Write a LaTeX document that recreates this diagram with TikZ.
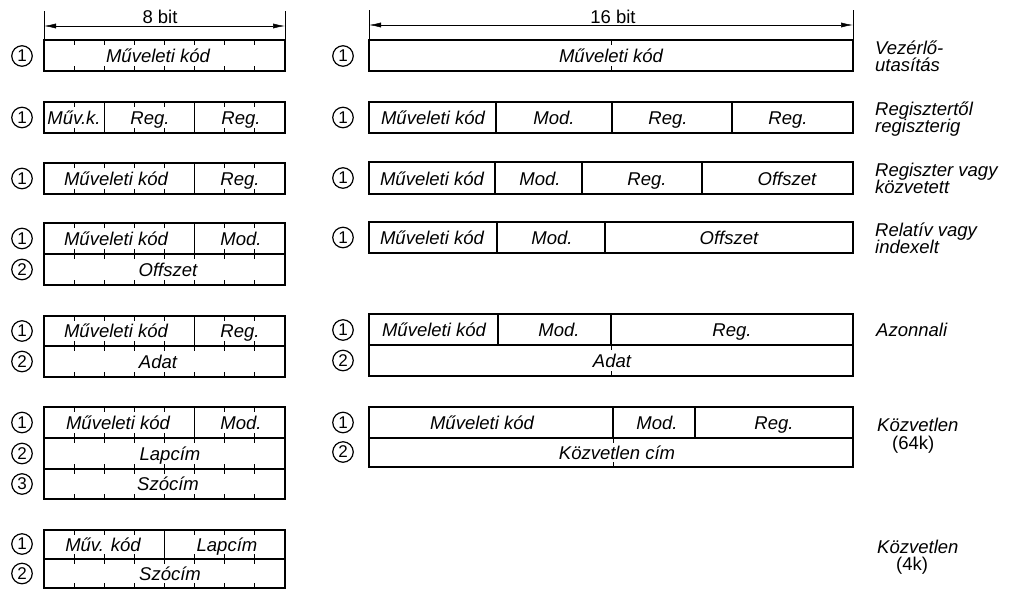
\documentclass[tikz,border=0pt]{standalone}
\usepackage{fontspec}
\setmainfont{Liberation Sans}
\usetikzlibrary{arrows.meta}
\newcommand\bxtop[1]{\foreach \k in {1,...,7}{\draw[tk] ({44+\k*30.125},#1) -- ++(0,5);}}
\newcommand\bxbot[1]{\foreach \k in {1,...,7}{\draw[tk] ({44+\k*30.125},#1) -- ++(0,-5);}}
\newcommand\bxmid[1]{\foreach \k in {1,...,7}{\draw[tk] ({44+\k*30.125},{#1-5}) -- ++(0,10);}}
\begin{document}
\begin{tikzpicture}[x=1pt,y=-1pt,
  bx/.style={line width=1.7pt, line join=miter},
  dv/.style={line width=1.3pt},
  tk/.style={line width=1pt},
  ext/.style={line width=0.6pt},
  dim/.style={line width=0.5pt, {Latex[length=12pt,width=5pt]}-{Latex[length=12pt,width=5pt]}},
  lbl/.style={font=\itshape\fontsize{18.5}{18.5}\selectfont, anchor=base, inner sep=0pt},
  side/.style={font=\itshape\fontsize{18.5}{18.5}\selectfont, anchor=base west, inner sep=0pt},
  up/.style={font=\fontsize{18.5}{18.5}\selectfont, anchor=base, inner sep=0pt},
  upw/.style={font=\fontsize{18.5}{18.5}\selectfont, anchor=base west, inner sep=0pt},
  num/.style={circle, draw, line width=1.2pt, minimum size=20.5pt, inner sep=0pt, font=\fontsize{17}{17}\selectfont}
]
\useasboundingbox (0,0) rectangle (1010,590);

% ---------- dimension lines ----------
\draw[ext] (44,11) -- (44,40);
\draw[ext] (285,11) -- (285,40);
\coordinate (d8l) at (44,26);
\coordinate (d8r) at (285,26);
\draw[dim] (d8l) -- (d8r);
\node[up] (b8) at (160,23) {8 bit};

\draw[ext] (369,10) -- (369,40);
\draw[ext] (853,10) -- (853,40);
\coordinate (d16l) at (369,25);
\coordinate (d16r) at (853,25);
\draw[dim] (d16l) -- (d16r);
\node[up] (b16) at (613,23) {16 bit};

% ================= LEFT (8 bit) =================
% Row A
\draw[bx] (44,40) rectangle (285,71);
\bxtop{40}\bxbot{71}
\node[lbl] (lA) at (158,62) {Műveleti kód};
\node[num] (nlA) at (22,56) {1};

% Row B
\draw[bx] (44,102) rectangle (285,133);
\bxtop{102}\bxbot{133}
\draw[dv] (104.25,102) -- (104.25,133);
\draw[dv] (194.6,102) -- (194.6,133);
\node[lbl] (lB1) at (74,124) {Műv.k.};
\node[lbl] (lB2) at (150,124) {Reg.};
\node[lbl] (lB3) at (241,124) {Reg.};
\node[num] (nlB) at (22,117.5) {1};

% Row C
\draw[bx] (44,163) rectangle (285,194);
\bxtop{163}\bxbot{194}
\draw[dv] (194.6,163) -- (194.6,194);
\node[lbl] (lC1) at (116,185) {Műveleti kód};
\node[lbl] (lC2) at (240,185) {Reg.};
\node[num] (nlC) at (22,178.5) {1};

% Row D
\draw[bx] (44,223) rectangle (285,285);
\draw[bx] (44,254) -- (285,254);
\bxtop{223}\bxmid{254}\bxbot{285}
\draw[dv] (194.6,223) -- (194.6,254);
\node[lbl] (lD1) at (116,245) {Műveleti kód};
\node[lbl] (lD2) at (241,245) {Mod.};
\node[lbl] (lD3) at (168,276) {Offszet};
\node[num] (nlD1) at (22,238.5) {1};
\node[num] (nlD2) at (22,269.5) {2};

% Row E
\draw[bx] (44,316) rectangle (285,377);
\draw[bx] (44,346) -- (285,346);
\bxtop{316}\bxmid{346}\bxbot{377}
\draw[dv] (194.6,316) -- (194.6,346);
\node[lbl] (lE1) at (116,337) {Műveleti kód};
\node[lbl] (lE2) at (240,337) {Reg.};
\node[lbl] (lE3) at (158,368) {Adat};
\node[num] (nlE1) at (22,331) {1};
\node[num] (nlE2) at (22,361.5) {2};

% Row F
\draw[bx] (44,407) rectangle (285,499);
\draw[bx] (44,438) -- (285,438);
\draw[bx] (44,469) -- (285,469);
\bxtop{407}\bxmid{438}\bxmid{469}\bxbot{499}
\draw[dv] (194.6,407) -- (194.6,438);
\node[lbl] (lF1) at (118,429) {Műveleti kód};
\node[lbl] (lF2) at (241,429) {Mod.};
\node[lbl] (lF3) at (170,460) {Lapcím};
\node[lbl] (lF4) at (168,490) {Szócím};
\node[num] (nlF1) at (22,422.5) {1};
\node[num] (nlF2) at (22,453.5) {2};
\node[num] (nlF3) at (22,484) {3};

% Row G
\draw[bx] (44,530) rectangle (285,588);
\draw[bx] (44,559) -- (285,559);
\bxtop{530}\bxmid{559}\bxbot{588}
\draw[dv] (164.5,530) -- (164.5,559);
\node[lbl] (lG1) at (103,551) {Műv. kód};
\node[lbl] (lG2) at (227,551) {Lapcím};
\node[lbl] (lG3) at (170,580) {Szócím};
\node[num] (nlG1) at (22,544) {1};
\node[num] (nlG2) at (22,573.5) {2};

% ================= RIGHT (16 bit) =================
% Row A
\draw[bx] (369,40) rectangle (853,71);
\draw[tk] (611,40) -- ++(0,5);
\draw[tk] (611,71) -- ++(0,-5);
\node[lbl] (rA) at (611,62) {Műveleti kód};
\node[num] (nrA) at (343,56) {1};

% Row B
\draw[bx] (369,102) rectangle (853,133);
\draw[dv] (496,102) -- (496,133);
\draw[dv] (612,102) -- (612,133);
\draw[dv] (732,102) -- (732,133);
\node[lbl] (rB1) at (433,124) {Műveleti kód};
\node[lbl] (rB2) at (554,124) {Mod.};
\node[lbl] (rB3) at (668,124) {Reg.};
\node[lbl] (rB4) at (788,124) {Reg.};
\node[num] (nrB) at (343,117.5) {1};

% Row C
\draw[bx] (369,162) rectangle (853,194);
\draw[dv] (495,162) -- (495,194);
\draw[dv] (582,162) -- (582,194);
\draw[dv] (702,162) -- (702,194);
\node[lbl] (rC1) at (432,185) {Műveleti kód};
\node[lbl] (rC2) at (540,185) {Mod.};
\node[lbl] (rC3) at (647,185) {Reg.};
\node[lbl] (rC4) at (787,185) {Offszet};
\node[num] (nrC) at (343,178) {1};

% Row D
\draw[bx] (369,222) rectangle (853,253);
\draw[dv] (497,222) -- (497,253);
\draw[dv] (605,222) -- (605,253);
\node[lbl] (rD1) at (432,244) {Műveleti kód};
\node[lbl] (rD2) at (552,244) {Mod.};
\node[lbl] (rD3) at (729,244) {Offszet};
\node[num] (nrD) at (343,237.5) {1};

% Row E
\draw[bx] (369,314) rectangle (853,376);
\draw[bx] (369,345) -- (853,345);
\draw[dv] (498,314) -- (498,345);
\draw[dv] (611,314) -- (611,345);
\draw[tk] (611,345) -- ++(0,5);
\draw[tk] (611,376) -- ++(0,-5);
\node[lbl] (rE1) at (434,336) {Műveleti kód};
\node[lbl] (rE2) at (559,336) {Mod.};
\node[lbl] (rE3) at (732,336) {Reg.};
\node[lbl] (rE4) at (612,367) {Adat};
\node[num] (nrE1) at (343,330) {1};
\node[num] (nrE2) at (343,360.5) {2};

% Row F
\draw[bx] (369,407) rectangle (853,467);
\draw[bx] (369,438) -- (853,438);
\draw[dv] (613,407) -- (613,438);
\draw[dv] (695,407) -- (695,438);
\draw[tk] (613,438) -- ++(0,5);
\draw[tk] (613,467) -- ++(0,-5);
\node[lbl] (rF1) at (482,429) {Műveleti kód};
\node[lbl] (rF2) at (657,429) {Mod.};
\node[lbl] (rF3) at (774,429) {Reg.};
\node[lbl] (rF4) at (617,459) {Közvetlen cím};
\node[num] (nrF1) at (343,422.5) {1};
\node[num] (nrF2) at (343,452) {2};

% ================= side labels =================
\node[side] (sA1) at (875,54) {Vezérlő-};
\node[side] (sA2) at (875,71) {utasítás};
\node[side] (sB1) at (875,115.5) {Regisztertől};
\node[side] (sB2) at (875,132.5) {regiszterig};
\node[side] (sC1) at (875,176) {Regiszter vagy};
\node[side] (sC2) at (875,193) {közvetett};
\node[side] (sD1) at (875,236) {Relatív vagy};
\node[side] (sD2) at (875,253) {indexelt};
\node[side] (sE) at (876,336) {Azonnali};
\node[side] (sF1) at (877,431) {Közvetlen};
\node[upw] (sF2) at (892,449) {(64k)};
\node[side] (sG1) at (877,553) {Közvetlen};
\node[upw] (sG2) at (896,570) {(4k)};
\end{tikzpicture}
\end{document}
